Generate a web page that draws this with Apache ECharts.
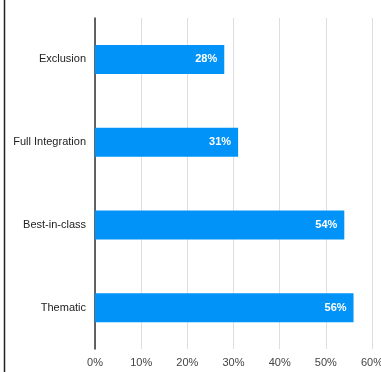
<!DOCTYPE html>
<html>
<head>
<meta charset="utf-8">
<script src="https://cdn.jsdelivr.net/npm/echarts@6/dist/echarts.min.js"></script>
<style>html,body{margin:0;padding:0;background:#fff}#c{width:381px;height:372px}</style>
</head>
<body>
<div id="c"></div>
<script>
const categories = ["Exclusion", "Full Integration", "Best-in-class", "Thematic"];
const values = [28, 31, 54, 56];
const tickLabels = ["0%", "10%", "20%", "30%", "40%", "50%", "60%"];

const chart = echarts.init(document.getElementById('c'), null, {renderer: 'canvas'});
chart.setOption({
  animation: false,
  backgroundColor: '#fff',
  textStyle: {fontFamily: 'Liberation Sans, Arial, sans-serif'},
  grid: {left: 95, right: 9, top: 18, bottom: 23, containLabel: false, outerBoundsMode: 'none'},
  xAxis: {
    type: 'value', min: 0, max: 60, interval: 10,
    axisLine: {show: false}, axisTick: {show: false},
    splitLine: {show: true, lineStyle: {color: '#dedede', width: 1}},
    axisLabel: {
      color: '#444', fontSize: 11, margin: 8,
      formatter: function (v) { return tickLabels[Math.round(v / 10)]; }
    }
  },
  yAxis: {
    type: 'category', data: categories, inverse: true,
    axisLine: {show: true, lineStyle: {color: '#333', width: 1.5}},
    axisTick: {show: false},
    axisLabel: {color: '#222', fontSize: 11, margin: 9}
  },
  series: [{
    type: 'bar', data: values, barWidth: 29,
    itemStyle: {color: '#0293f8'},
    label: {
      show: true, position: 'insideRight', distance: 7,
      color: '#fff', fontWeight: 'bold', fontSize: 11,
      formatter: function (p) { return p.value + '%'; }
    }
  }],
  graphic: [{
    type: 'line', shape: {x1: 4.5, y1: 0, x2: 4.5, y2: 372},
    style: {stroke: '#222', lineWidth: 1.5}
  }]
});
</script>
</body>
</html>
